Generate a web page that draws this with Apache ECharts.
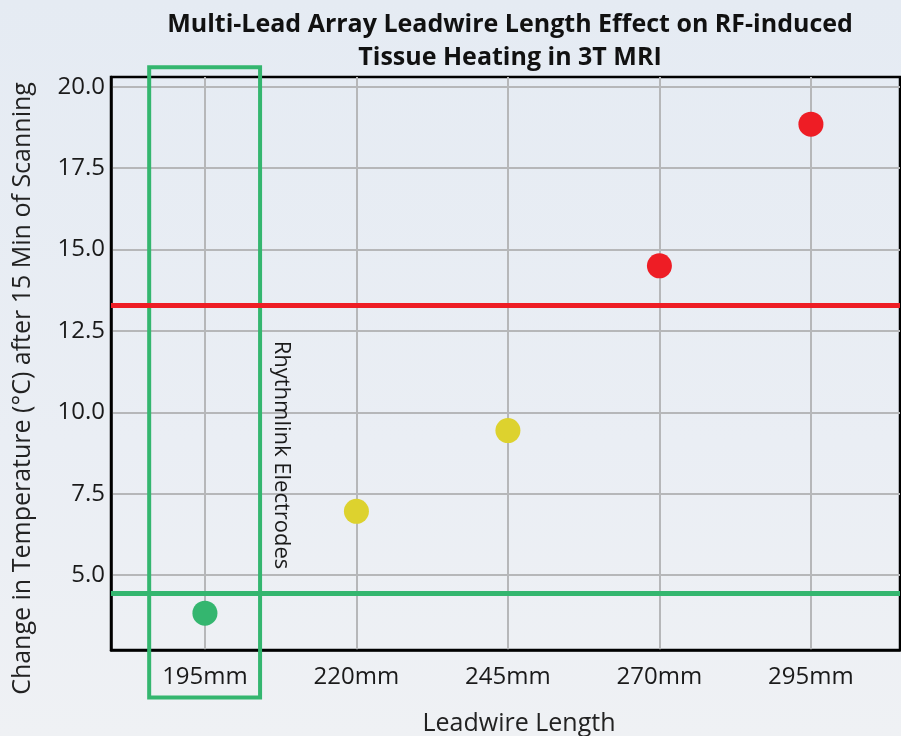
<!DOCTYPE html>
<html>
<head>
<meta charset="utf-8">
<title>Leadwire Length Effect</title>
<script src="https://cdn.jsdelivr.net/npm/echarts@6/dist/echarts.min.js"></script>
<style>
  html, body { margin: 0; padding: 0; }
  #chart {
    width: 901px;
    height: 736px;
    background: linear-gradient(180deg, #e5ebf3 0%, #eaeef4 60%, #eff1f4 100%);
  }
</style>
</head>
<body>
<div id="chart"></div>
<script>
  // data
  const categories = ['195mm', '220mm', '245mm', '270mm', '295mm']
  const lengths = [195, 220, 245, 270, 295]          // leadwire length, mm
  const temps = [3.83, 6.96, 9.44, 14.5, 18.85]      // temperature rise, °C
  const yTicks = [5, 7.5, 10, 12.5, 15, 17.5, 20]
  const upperLimit = 13.3                            // red line
  const lowerLimit = 4.43                            // green line
  const rhythmlinkBand = [185.8, 204.1]              // box round the 195mm lead

  const RED = '#ee1d25'
  const GREEN = '#34b66f'
  const YELLOW = '#ddd22e'
  const FONT = 'Open Sans'

  const chart = echarts.init(document.getElementById('chart'))

  // colour of a point depends on where it sits against the two limits
  const pointColor = v => {
    if (v < lowerLimit) return GREEN
    if (v > upperLimit) return RED
    return YELLOW
  }

  const option = {
    animation: false,
    title: {
      text: 'Multi-Lead Array Leadwire Length Effect on RF-induced\nTissue Heating in 3T MRI',
      left: 505,
      top: 3,
      textAlign: 'center',
      textStyle: {
        fontFamily: FONT,
        fontWeight: 'bold',
        fontSize: 25,
        lineHeight: 33,
        color: '#111'
      }
    },
    grid: {
      left: 111,
      right: 1,
      top: 77,
      bottom: 86,
      outerBoundsMode: 'none',
      show: true,
      borderColor: '#000',
      borderWidth: 2.5,
      backgroundColor: 'transparent'
    },
    xAxis: {
      type: 'value',
      min: 179.5,
      max: 309.7,
      name: 'Leadwire Length',
      nameLocation: 'middle',
      nameGap: 61,
      nameTextStyle: { fontFamily: FONT, fontSize: 25, color: '#222', padding: [0, 0, 0, 27] },
      axisLine: { show: true, lineStyle: { color: '#000', width: 2.5 } },
      axisTick: { show: false, customValues: lengths },
      axisLabel: {
        customValues: lengths,
        formatter: v => categories[lengths.indexOf(v)],
        fontFamily: FONT,
        fontSize: 24,
        color: '#1a1a1a',
        margin: 15
      },
      splitLine: { show: true, lineStyle: { color: '#b6b7b9', width: 2 } }
    },
    yAxis: {
      type: 'value',
      min: 2.7,
      max: 20.3,
      name: 'Change in Temperature (\u00b0C) after 15 Min of Scanning',
      nameLocation: 'middle',
      nameGap: 76,
      nameTextStyle: { fontFamily: FONT, fontSize: 25, color: '#222', padding: [0, 50, 0, 0] },
      axisLine: { show: true, lineStyle: { color: '#000', width: 2.5 } },
      axisTick: { show: false, customValues: yTicks },
      axisLabel: {
        customValues: yTicks,
        formatter: v => v.toFixed(1),
        fontFamily: FONT,
        fontSize: 24,
        color: '#1a1a1a',
        margin: 6
      },
      splitLine: { show: true, lineStyle: { color: '#b6b7b9', width: 2 } }
    },
    series: [
      {
        type: 'scatter',
        symbolSize: 25,
        z: 5,
        data: lengths.map((x, i) => [x, temps[i]]),
        itemStyle: {
          opacity: 1,
          color: p => pointColor(p.value[1])
        },
        markLine: {
          silent: true,
          symbol: 'none',
          label: { show: false },
          data: [
            { yAxis: upperLimit, lineStyle: { color: RED, width: 5, type: 'solid' } },
            { yAxis: lowerLimit, lineStyle: { color: GREEN, width: 5, type: 'solid' } }
          ]
        }
      },
      {
        // box round the Rhythmlink electrodes, runs past the plot on purpose
        type: 'custom',
        clip: false,
        silent: true,
        z: 4,
        data: [[rhythmlinkBand[0], rhythmlinkBand[1]]],
        renderItem: (params, api) => {
          const tl = api.coord([api.value(0), 20.6])
          const br = api.coord([api.value(1), 1.24])
          const txt = api.coord([api.value(1) + 3.5, 8.69])
          return {
            type: 'group',
            children: [
              {
                type: 'rect',
                shape: { x: tl[0], y: tl[1], width: br[0] - tl[0], height: br[1] - tl[1] },
                style: { fill: 'none', stroke: GREEN, lineWidth: 4 }
              },
              {
                type: 'text',
                x: txt[0],
                y: txt[1],
                rotation: -Math.PI / 2,
                style: {
                  text: 'Rhythmlink Electrodes',
                  fontFamily: FONT,
                  fontSize: 22,
                  fill: '#1a1a1a',
                  align: 'center',
                  verticalAlign: 'middle'
                }
              }
            ]
          }
        }
      }
    ]
  }

  chart.setOption(option)
</script>
</body>
</html>
